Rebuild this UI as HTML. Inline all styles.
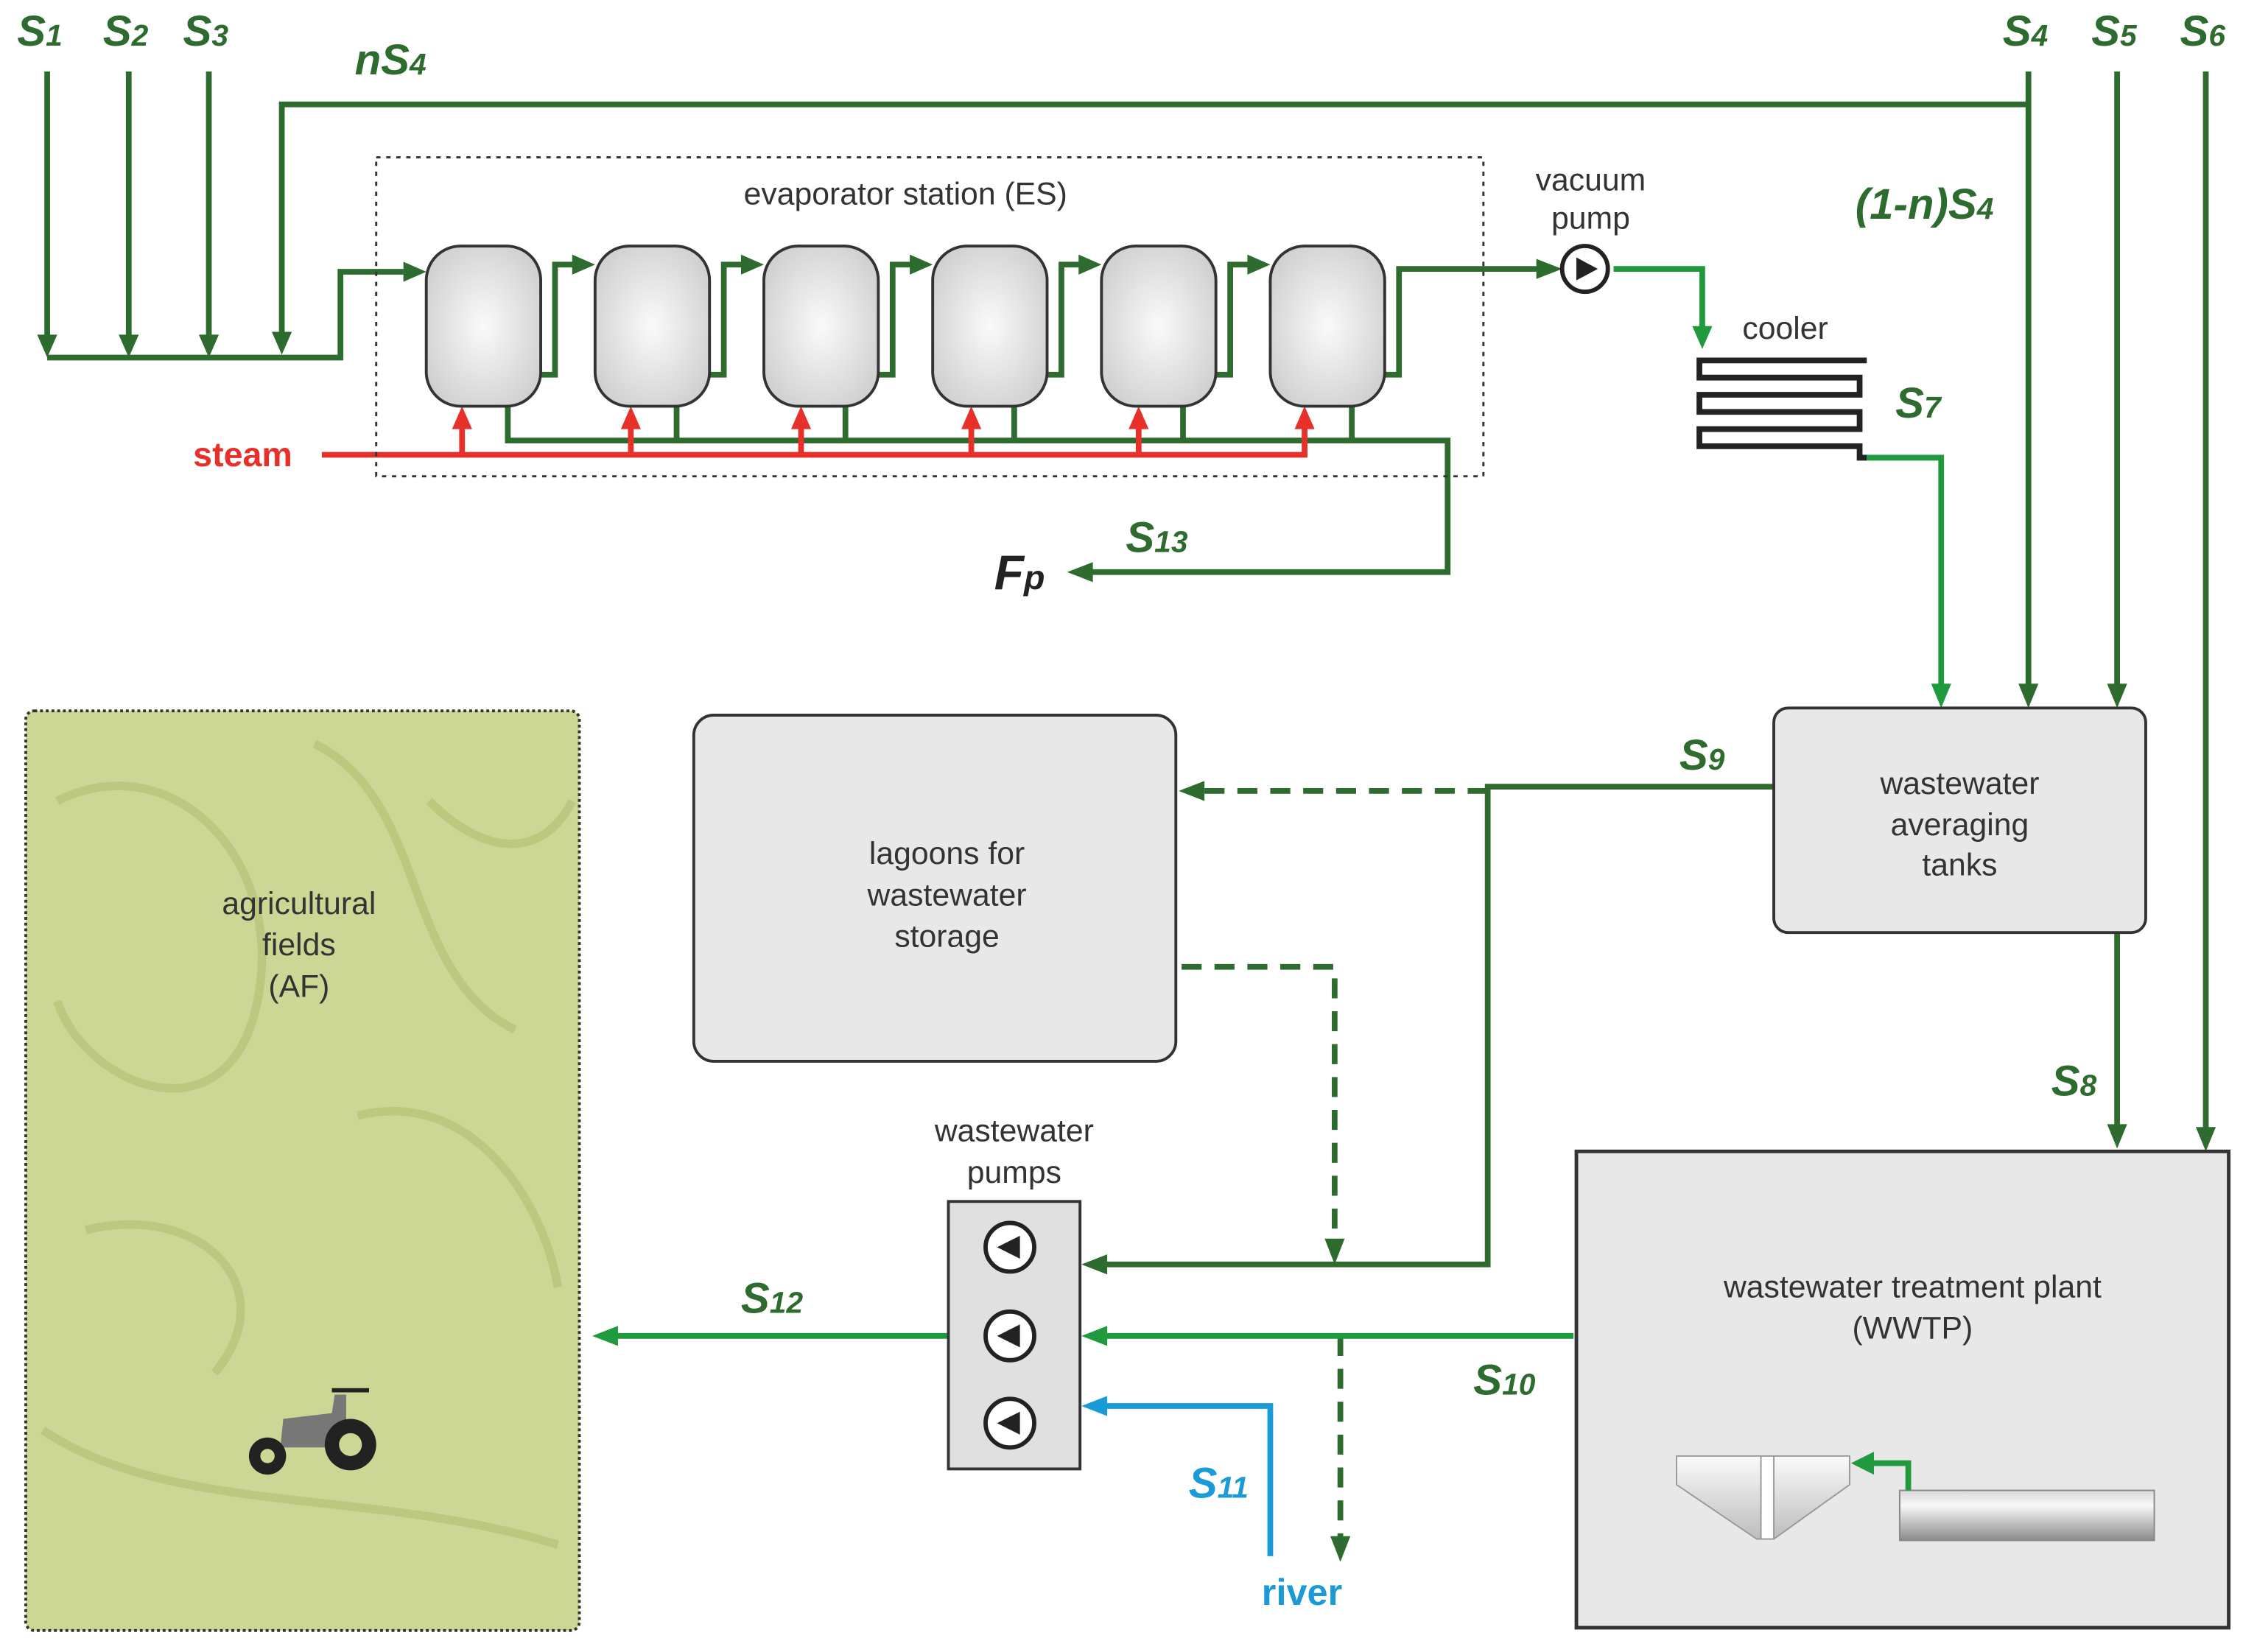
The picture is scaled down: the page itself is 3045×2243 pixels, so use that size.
<!DOCTYPE html>
<html><head><meta charset="utf-8"><style>html,body{margin:0;padding:0;background:#fff}svg{display:block}</style></head>
<body>
<svg width="3045" height="2243" viewBox="0 0 1568 1155" preserveAspectRatio="none" xmlns="http://www.w3.org/2000/svg" font-family="Liberation Sans, sans-serif">
<defs>
<radialGradient id="tg" cx="0.5" cy="0.5" r="0.6"><stop offset="0" stop-color="#fafafa"/><stop offset="1" stop-color="#cfcfcf"/></radialGradient>
<linearGradient id="cyl" x1="0" y1="0" x2="0" y2="1"><stop offset="0" stop-color="#d8d8d8"/><stop offset="0.3" stop-color="#f8f8f8"/><stop offset="1" stop-color="#8a8a8a"/></linearGradient>
<linearGradient id="cone" x1="0" y1="0" x2="0" y2="1"><stop offset="0" stop-color="#fafafa"/><stop offset="1" stop-color="#bdbdbd"/></linearGradient>
</defs>
<g fill="none" stroke-linejoin="miter">
<g stroke="#2e6b2e" stroke-width="4">
<path d="M33,50V238M90,50V238M146,50V238"/>
<path d="M33,250H238V190H282"/>
<path d="M1418,73H197V236"/>
<path d="M1418,50V480M1480,50V480M1542,50V790"/>
<path d="M1480,652V790"/>
<path d="M378,262H388V185H402M496,262H506V185H520M614,262H624V185H638M732,262H742V185H756M850,262H860V185H874"/>
<path d="M966,262H978V188H1076"/>
<path d="M355,284V308H1012V400H762"/>
<path d="M473,284V308M591,284V308M709,284V308M827,284V308M945,284V308"/>
<path d="M1240,550H1040V884H772"/>
</g>
<g stroke="#2e6b2e" stroke-width="4" stroke-dasharray="14,9">
<path d="M1040,553H840"/>
<path d="M826,676H933V870"/>
<path d="M937,934V1076"/>
</g>
<g stroke="#1f9a3c" stroke-width="4">
<path d="M1128,188H1190V230"/>
<path d="M1305,320H1357V480"/>
<path d="M1100,934H772"/>
<path d="M663,934H430"/>
</g>
<path d="M888,1088V983H772" stroke="#1a9ad6" stroke-width="4"/>
<g stroke="#e8302a" stroke-width="4">
<path d="M225,318H914"/>
<path d="M323,318V298M441,318V298M560,318V298M679,318V298M796,318V298M912,318V298"/>
</g>
</g>
<g fill="#2e6b2e">
<path d="M26,234L40,234L33,250Z"/><path d="M83,234L97,234L90,250Z"/><path d="M139,234L153,234L146,250Z"/><path d="M190,232L204,232L197,248Z"/>
<path d="M282,183L298,190L282,197Z"/>
<path d="M400,178L416,185L400,192Z"/><path d="M518,178L534,185L518,192Z"/><path d="M636,178L652,185L636,192Z"/><path d="M754,178L770,185L754,192Z"/><path d="M872,178L888,185L872,192Z"/>
<path d="M1074,181L1092,188L1074,195Z"/>
<path d="M1411,478L1425,478L1418,495Z"/><path d="M1473,478L1487,478L1480,495Z"/><path d="M1535,788L1549,788L1542,805Z"/><path d="M1473,786L1487,786L1480,803Z"/>
<path d="M764,393L746,400L764,407Z"/>
<path d="M774,877L756,884L774,891Z"/>
<path d="M842,546L824,553L842,560Z"/>
<path d="M926,866L940,866L933,884Z"/>
<path d="M930,1074L944,1074L937,1092Z"/>
</g>
<g fill="#1f9a3c">
<path d="M1183,228L1197,228L1190,244Z"/><path d="M1350,478L1364,478L1357,495Z"/>
<path d="M774,927L756,934L774,941Z"/><path d="M432,927L414,934L432,941Z"/>
</g>
<path d="M774,976L756,983L774,990Z" fill="#1a9ad6"/>
<g fill="#e8302a">
<path d="M316,300L323,284L330,300Z"/><path d="M434,300L441,284L448,300Z"/><path d="M553,300L560,284L567,300Z"/><path d="M672,300L679,284L686,300Z"/><path d="M789,300L796,284L803,300Z"/><path d="M905,300L912,284L919,300Z"/>
</g>
<rect x="263" y="110" width="774" height="223" fill="none" stroke="#333" stroke-width="1.5" stroke-dasharray="3,4"/>
<g fill="url(#tg)" stroke="#333" stroke-width="2">
<rect x="298" y="172" width="80" height="112" rx="24"/><rect x="416" y="172" width="80" height="112" rx="24"/><rect x="534" y="172" width="80" height="112" rx="24"/><rect x="652" y="172" width="80" height="112" rx="24"/><rect x="770" y="172" width="80" height="112" rx="24"/><rect x="888" y="172" width="80" height="112" rx="24"/>
</g>
<circle cx="1108" cy="188" r="16" fill="#fff" stroke="#222" stroke-width="3"/>
<path d="M1102,180L1117,188L1102,196Z" fill="#222"/>
<path d="M1305,252H1188V264H1300V276H1188V288H1300V300H1188V312H1300V320H1305" fill="none" stroke="#222" stroke-width="4"/>
<rect x="1240" y="495" width="260" height="157" rx="10" fill="#e8e8e8" stroke="#333" stroke-width="2"/>
<rect x="485" y="500" width="337" height="242" rx="14" fill="#e8e8e8" stroke="#333" stroke-width="2"/>
<rect x="1102" y="805" width="456" height="333" fill="#e8e8e8" stroke="#333" stroke-width="2.5"/>
<rect x="663" y="840" width="92" height="187" fill="#e0e0e0" stroke="#333" stroke-width="2"/>
<g fill="#fff" stroke="#222" stroke-width="3">
<circle cx="706" cy="872" r="17"/><circle cx="706" cy="934" r="17"/><circle cx="706" cy="995" r="17"/>
</g>
<g fill="#222"><path d="M713,864L697,872L713,880Z"/><path d="M713,926L697,934L713,942Z"/><path d="M713,987L697,995L713,1003Z"/></g>
<path d="M1172,1018H1293V1038L1240,1076H1228L1172,1038Z" fill="url(#cone)" stroke="#999" stroke-width="1"/>
<rect x="1231" y="1018" width="9" height="58" fill="#fff" stroke="#999" stroke-width="1"/>
<rect x="1328" y="1042" width="178" height="35" fill="url(#cyl)" stroke="#888" stroke-width="1"/>
<path d="M1334,1042V1023H1308" fill="none" stroke="#1f9a3c" stroke-width="4"/>
<path d="M1310,1015L1294,1023L1310,1031Z" fill="#1f9a3c"/>
<rect x="18" y="497" width="387" height="643" rx="6" fill="#cdd795" stroke="#333" stroke-width="2" stroke-dasharray="2,2"/>
<g fill="none" stroke="#b7c67a" stroke-width="6" opacity="0.8">
<path d="M40,560C120,520 200,600 180,700C160,800 60,760 40,700"/>
<path d="M220,520C300,560 280,680 360,720"/>
<path d="M60,860C140,840 200,900 150,960"/>
<path d="M250,780C330,760 380,840 390,900"/>
<path d="M30,1000C120,1060 260,1040 390,1080"/>
<path d="M300,560C340,600 380,600 400,560"/>
</g>
<g>
<path d="M196,1012L198,992L232,988L234,975H242V1012Z" fill="#777"/>
<path d="M232,972H258" stroke="#222" stroke-width="3"/>
<circle cx="245" cy="1010" r="18" fill="#222"/><circle cx="245" cy="1010" r="8" fill="#cdd795"/>
<circle cx="187" cy="1018" r="13" fill="#222"/><circle cx="187" cy="1018" r="5" fill="#cdd795"/>
</g>
<g fill="#2e6b2e" font-weight="bold" font-style="italic" font-size="30">
<text x="12" y="32">S<tspan font-size="21">1</tspan></text>
<text x="72" y="32">S<tspan font-size="21">2</tspan></text>
<text x="128" y="32">S<tspan font-size="21">3</tspan></text>
<text x="248" y="52">nS<tspan font-size="21">4</tspan></text>
<text x="1400" y="32">S<tspan font-size="21">4</tspan></text>
<text x="1462" y="32">S<tspan font-size="21">5</tspan></text>
<text x="1524" y="32">S<tspan font-size="21">6</tspan></text>
<text x="1297" y="153">(1-n)S<tspan font-size="21">4</tspan></text>
<text x="1325" y="292">S<tspan font-size="21">7</tspan></text>
<text x="787" y="386">S<tspan font-size="21">13</tspan></text>
<text x="1174" y="538">S<tspan font-size="21">9</tspan></text>
<text x="1434" y="766">S<tspan font-size="21">8</tspan></text>
<text x="1030" y="975">S<tspan font-size="21">10</tspan></text>
<text x="518" y="918">S<tspan font-size="21">12</tspan></text>
</g>
<text x="831" y="1047" fill="#1a9ad6" font-weight="bold" font-style="italic" font-size="30">S<tspan font-size="21">11</tspan></text>
<text x="882" y="1122" fill="#1a9ad6" font-weight="bold" font-size="26">river</text>
<text x="135" y="326" fill="#e8302a" font-weight="bold" font-size="24">steam</text>
<text x="695" y="412" fill="#222" font-weight="bold" font-style="italic" font-size="34">F<tspan font-size="24">p</tspan></text>
<g fill="#333" font-size="22" text-anchor="middle">
<text x="633" y="143">evaporator station (ES)</text>
<text x="1112" y="133">vacuum</text><text x="1112" y="160">pump</text>
<text x="1248" y="237">cooler</text>
<text x="1370" y="555">wastewater</text><text x="1370" y="584">averaging</text><text x="1370" y="612">tanks</text>
<text x="662" y="604">lagoons for</text><text x="662" y="633">wastewater</text><text x="662" y="662">storage</text>
<text x="209" y="639">agricultural</text><text x="209" y="668">fields</text><text x="209" y="697">(AF)</text>
<text x="709" y="798">wastewater</text><text x="709" y="827">pumps</text>
<text x="1337" y="907">wastewater treatment plant</text><text x="1337" y="936">(WWTP)</text>
</g>
</svg>
</body></html>
